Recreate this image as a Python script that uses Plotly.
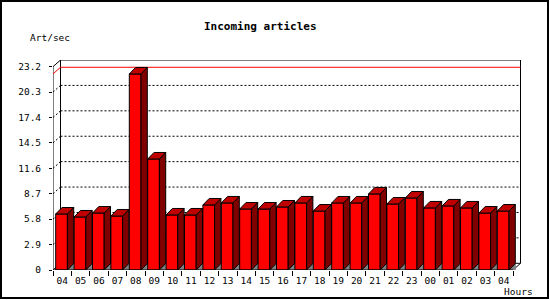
import plotly.graph_objects as go

# ---- data ----
hours = ["04", "05", "06", "07", "08", "09", "10", "11", "12", "13", "14", "15", "16",
         "17", "18", "19", "20", "21", "22", "23", "00", "01", "02", "03", "04"]
rates = [6.39, 6.05, 6.50, 6.16, 22.37, 12.67, 6.28, 6.28, 7.42, 7.65, 6.96, 6.96, 7.19,
         7.65, 6.73, 7.65, 7.65, 8.68, 7.53, 8.22, 7.08, 7.31, 7.08, 6.50, 6.73]
ytick_vals = [0, 2.9, 5.8, 8.7, 11.6, 14.5, 17.4, 20.3, 23.2]
ytick_text = ["0", "2.9", "5.8", "8.7", "11.6", "14.5", "17.4", "20.3", "23.2"]
title_text = "Incoming articles"
y_title = "Art/sec"
x_title = "Hours"

# ---- geometry (pixels -> data units) ----
W_PX, H_PX = 550, 300
ML, MR, MT, MB = 53, 29, 60, 30
PW, PH = W_PX - ML - MR, H_PX - MT - MB
PX_X = 18.4          # px per category
PX_Y = 8.763         # px per unit value
n = len(rates)
x0, x1 = -0.5, n - 0.5
XR = [x0, x0 + PW / PX_X]
YR = [0, PH / PX_Y]
ytop = ytick_vals[-1]
WDX = 7.5 / PX_X
WDY = YR[1] - ytop
BA = 2.7 / PX_X      # bar left inset
BW = 11.7 / PX_X     # bar front width
BDX = 6.3 / PX_X
BDY = 6.5 / PX_Y

FONT = "DejaVu Sans Mono"
fig = go.Figure()

def line(xs, ys, color="black", dash=None, width=1):
    fig.add_trace(go.Scatter(x=xs, y=ys, mode="lines", hoverinfo="skip",
                             line=dict(color=color, width=width, dash=dash),
                             showlegend=False))

# gridlines on back wall and left wall
for v in ytick_vals[1:-1]:
    line([x0 + WDX, x1 + WDX], [v + WDY, v + WDY], dash="2px,2px")
    line([x0, x0 + WDX], [v, v + WDY], dash="2px,2px")

# walls
line([x0 + WDX, x1 + WDX], [WDY, WDY])
line([x0, x0, x0 + WDX, x1 + WDX, x1 + WDX, x1],
     [0, ytop, ytop + WDY, ytop + WDY, WDY, 0])
line([x0 + WDX, x0 + WDX], [ytop + WDY, WDY])
line([x0, x0 + WDX], [0, WDY])

# max line
vmax = max(rates)
line([x0, x0 + WDX, x1 + WDX], [vmax, vmax + WDY, vmax + WDY], color="#ff0000")

# bars
shx, shy, fx, fy, sx, sy, tx, ty = [], [], [], [], [], [], [], []
for i, v in enumerate(rates):
    xl = i - 0.5 + BA
    xr = xl + BW
    shx += [xr, xr + BDX, xr + BDX, None]; shy += [0, BDY, 0, None]
    fx += [xl, xr, xr, xl, xl, None]; fy += [0, 0, v, v, 0, None]
    sx += [xr, xr + BDX, xr + BDX, xr, xr, None]; sy += [0, BDY, v + BDY, v, 0, None]
    tx += [xl, xr, xr + BDX, xl + BDX, xl, None]; ty += [v, v, v + BDY, v + BDY, v, None]

def poly(xs, ys, fill, lc="black"):
    fig.add_trace(go.Scatter(x=xs, y=ys, mode="lines", fill="toself", fillcolor=fill,
                             line=dict(color=lc, width=1), hoverinfo="skip",
                             showlegend=False))

poly(shx, shy, "#808080", lc="#808080")
poly(fx, fy, "#ff0000")
poly(sx, sy, "#800000")
poly(tx, ty, "#c00000")

# front x axis line
line([x0, x1], [0, 0])

# dummy for xaxis2
fig.add_trace(go.Scatter(x=[None], y=[None], xaxis="x2", showlegend=False, hoverinfo="skip"))

def px_x(p):
    return (p - ML) / PW

def px_y(p):
    return (H_PX - MB - p) / PH

fig.update_layout(
    width=W_PX, height=H_PX,
    margin=dict(l=ML, r=MR, t=MT, b=MB, pad=0),
    paper_bgcolor="white", plot_bgcolor="white",
    showlegend=False, hovermode=False,
    font=dict(family=FONT, size=9.5, color="black"),
    xaxis=dict(range=XR, tickvals=list(range(n)), ticktext=hours, ticks="",
               showline=False, showgrid=False, zeroline=False,
               tickfont=dict(family=FONT, size=9.5, color="black"),
               ticklabelstandoff=3, fixedrange=True),
    xaxis2=dict(range=XR, overlaying="x", anchor="y", side="bottom",
                tickvals=[i - 0.5 for i in range(n + 1)], ticks="outside", ticklen=5,
                tickcolor="black", tickwidth=1, showticklabels=False,
                showline=False, showgrid=False, zeroline=False, fixedrange=True),
    yaxis=dict(range=YR, tickvals=ytick_vals, ticktext=ytick_text, ticks="outside",
               ticklen=3, tickcolor="black", tickwidth=1,
               showline=False, showgrid=False, zeroline=False,
               tickfont=dict(family=FONT, size=9.5, color="black"),
               ticklabelstandoff=6, fixedrange=True),
    annotations=[
        dict(text="<b>" + title_text + "</b>", xref="paper", yref="paper",
             x=px_x(260), y=px_y(26.7), xanchor="center", yanchor="middle",
             showarrow=False, font=dict(family=FONT, size=11, color="black")),
        dict(text=y_title, xref="paper", yref="paper", x=px_x(28), y=px_y(37.3),
             xanchor="left", yanchor="middle", showarrow=False,
             font=dict(family=FONT, size=9.5, color="black")),
        dict(text=x_title, xref="paper", yref="paper", x=px_x(535), y=px_y(291.7),
             xanchor="right", yanchor="middle", showarrow=False,
             font=dict(family=FONT, size=9.5, color="black")),
    ],
    shapes=[dict(type="rect", xref="paper", yref="paper",
                 x0=px_x(1), x1=px_x(548), y0=px_y(298), y1=px_y(1),
                 line=dict(color="black", width=2), layer="above")],
)

fig.write_html("out.html", config={"displayModeBar": False})
